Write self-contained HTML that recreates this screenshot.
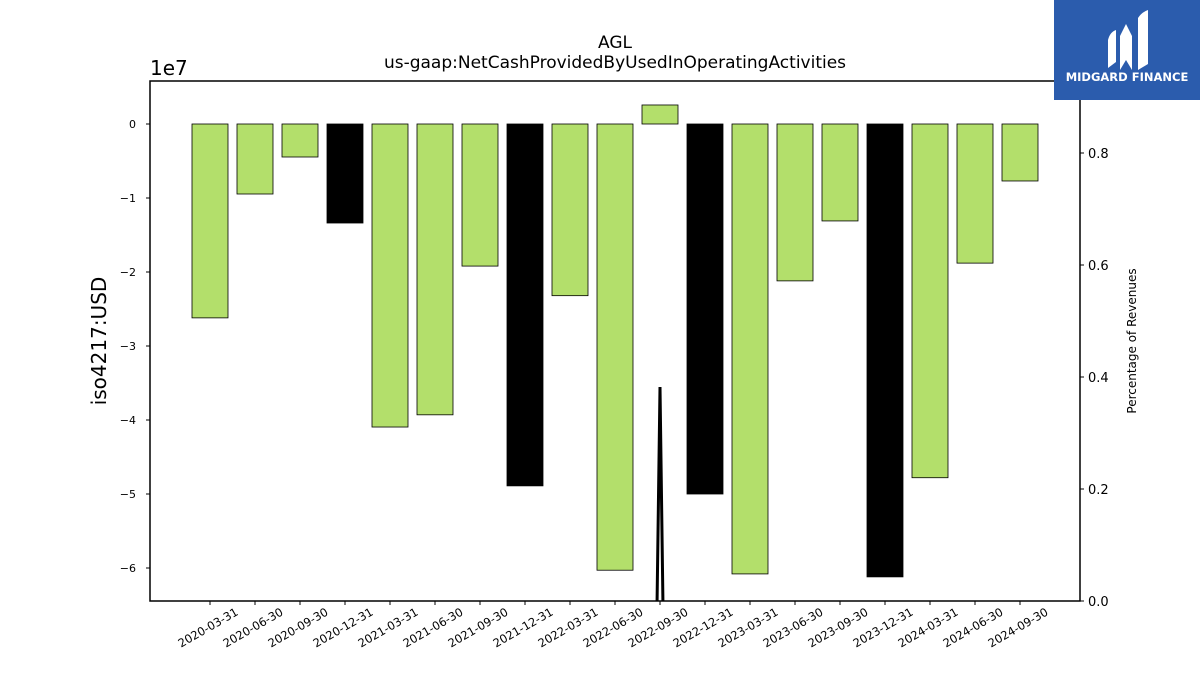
<!DOCTYPE html>
<html><head><meta charset="utf-8"><style>
html,body{margin:0;background:#fff;overflow:hidden;width:1200px;height:675px}
svg{display:block}
</style></head><body>
<svg id="c" width="1200" height="675" xmlns="http://www.w3.org/2000/svg" font-family="DejaVu Sans, Liberation Sans, sans-serif">
<rect width="1200" height="675" fill="#fff"/>
<text x="615" y="48" text-anchor="middle" font-size="17">AGL</text>
<text x="615" y="68" text-anchor="middle" font-size="17">us-gaap:NetCashProvidedByUsedInOperatingActivities</text>
<text x="150" y="75" font-size="20">1e7</text>
<text transform="translate(106,341) rotate(-90)" text-anchor="middle" font-size="20">iso4217:USD</text>
<text transform="translate(1136,341) rotate(-90)" text-anchor="middle" font-size="12">Percentage of Revenues</text>
<g id="bars"></g><g id="line"></g><g id="axes"></g>
<g>
<rect x="1054" y="0" width="146" height="100" fill="#2b5cad"/>
<path d="M1108 68 L1108 40 Q1110 32 1116 30 L1116 62 Z M1120 70 L1120 36 L1126 24 L1132 36 L1132 70 L1126 60 Z M1138 70 L1138 18 Q1142 12 1148 10 L1148 64 Z" fill="#fff"/>
<text x="1127" y="81" text-anchor="middle" font-size="11.5" font-weight="bold" fill="#fff">MIDGARD FINANCE</text>
</g>
</svg>
<script>
const categories=["2020-03-31","2020-06-30","2020-09-30","2020-12-31","2021-03-31","2021-06-30","2021-09-30","2021-12-31","2022-03-31","2022-06-30","2022-09-30","2022-12-31","2023-03-31","2023-06-30","2023-09-30","2023-12-31","2024-03-31","2024-06-30","2024-09-30"];
const values=[-2.62,-0.946,-0.446,-1.338,-4.095,-3.93,-1.92,-4.89,-2.32,-6.03,0.257,-5.0,-6.08,-2.12,-1.31,-6.12,-4.78,-1.88,-0.77];
const isQ4=[0,0,0,1,0,0,0,1,0,0,0,1,0,0,0,1,0,0,0];
const pctRevenue=[null,null,null,null,null,null,null,null,null,-5.5,0.382,-5.5,null,null,null,null,null,null,null];
const yTicks=[0,-1,-2,-3,-4,-5,-6];
const y2Ticks=[0,0.2,0.4,0.6,0.8];
const NS="http://www.w3.org/2000/svg";
const L=150,R=1080,T=81,B=601;
const xs=i=>210+i*45;
const ys=v=>124-v*74;
const y2=v=>601-v*560;
function mk(tag,attrs,parent){const e=document.createElementNS(NS,tag);for(const k in attrs)e.setAttribute(k,attrs[k]);parent.appendChild(e);return e;}
const bars=document.getElementById('bars'),line=document.getElementById('line'),axes=document.getElementById('axes');
values.forEach((v,i)=>{const y0=ys(0),y1=ys(v);
const r=mk('rect',{x:xs(i)-18,y:Math.min(y0,y1),width:36,height:Math.abs(y1-y0),fill:isQ4[i]?'#000':'#b3df6b',stroke:'#000','stroke-width':0.8},bars);

});
const cp=mk('clipPath',{id:'clip'},line);mk('rect',{x:L,y:T,width:R-L,height:B-T},cp);
let segs=[],cur=[];pctRevenue.forEach((v,i)=>{if(v===null){if(cur.length)segs.push(cur);cur=[];}else cur.push(xs(i)+','+y2(v));});if(cur.length)segs.push(cur);
segs.forEach(s=>{const p=mk('polyline',{points:s.join(' '),fill:'none',stroke:'#000','stroke-width':3,'clip-path':'url(#clip)'},line);

});
const f=mk('rect',{x:L,y:T,width:R-L,height:B-T,fill:'none',stroke:'#000','stroke-width':1.5},axes);


yTicks.forEach(t=>{mk('line',{x1:L-4,x2:L,y1:ys(t),y2:ys(t),stroke:'#000'},axes);
const tx=mk('text',{x:L-14,y:ys(t)+4,'text-anchor':'end','font-size':11},axes);tx.textContent=t===0?'0':'\u2212'+(-t);

});
y2Ticks.forEach(t=>{mk('line',{x1:R,x2:R+4,y1:y2(t),y2:y2(t),stroke:'#000'},axes);
const tx=mk('text',{x:R+8,y:y2(t)+5,'font-size':13},axes);tx.textContent=t.toFixed(1);

});
categories.forEach((c,i)=>{mk('line',{x1:xs(i),x2:xs(i),y1:B,y2:B+4,stroke:'#000'},axes);
const tx=mk('text',{transform:`translate(${xs(i)},${B+30}) rotate(-30)`,'text-anchor':'middle','font-size':11.5},axes);tx.textContent=c;

});
</script>
</body></html>
